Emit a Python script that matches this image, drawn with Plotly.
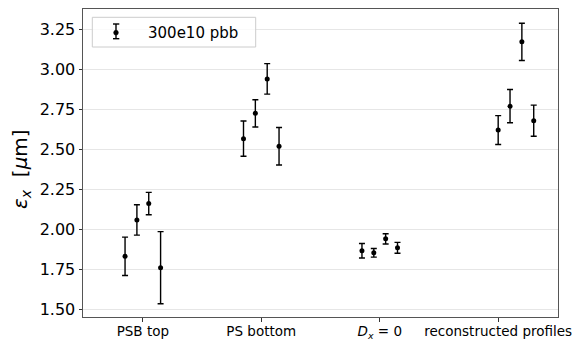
import plotly.graph_objects as go

categories = ["PSB top", "PS bottom", "<i>D</i><sub><i>x</i></sub> = 0", "reconstructed profiles"]
offsets = [
    [-0.15, -0.05, 0.05, 0.15],
    [-0.15, -0.05, 0.05, 0.15],
    [-0.15, -0.05, 0.05, 0.15],
    [0.0, 0.1, 0.2, 0.3],
]
eps_psb_top = [1.833, 2.06, 2.162, 1.762]
err_psb_top = [0.12, 0.095, 0.07, 0.225]
eps_ps_bottom = [2.567, 2.725, 2.94, 2.52]
err_ps_bottom = [0.11, 0.085, 0.095, 0.117]
eps_dx0 = [1.868, 1.855, 1.942, 1.886]
err_dx0 = [0.045, 0.027, 0.032, 0.034]
eps_recon = [2.621, 2.77, 3.171, 2.679]
err_recon = [0.09, 0.104, 0.116, 0.097]
y_ticks = [1.50, 1.75, 2.00, 2.25, 2.50, 2.75, 3.00, 3.25]
series_name = "300e10 pbb"

groups = [
    (eps_psb_top, err_psb_top),
    (eps_ps_bottom, err_ps_bottom),
    (eps_dx0, err_dx0),
    (eps_recon, err_recon),
]

xs, ys, es = [], [], []
for i, (vals, errs) in enumerate(groups):
    for off, v, e in zip(offsets[i], vals, errs):
        xs.append(i + off)
        ys.append(v)
        es.append(e)

font = "DejaVu Sans, Verdana, sans-serif"

W, H = 575, 340
ML, MR, MT, MB = 83, 17, 9, 23
PW, PH = W - ML - MR, H - MT - MB


def px(xpix):
    return (xpix - ML) / PW


def py(ypix):
    return 1 - (ypix - MT) / PH


fig = go.Figure()
fig.add_trace(go.Scatter(
    x=xs, y=ys, mode="markers", name=series_name, showlegend=False,
    marker=dict(color="black", size=5, symbol="circle"),
    error_y=dict(type="data", array=es, visible=True, color="black",
                 thickness=1.4, width=3),
))

fig.update_layout(
    width=W, height=H,
    margin=dict(l=ML, r=MR, t=MT, b=MB),
    plot_bgcolor="white", paper_bgcolor="white",
    font=dict(family=font, color="black"),
    showlegend=False,
    xaxis=dict(
        range=[-0.505, 3.505], tickmode="array",
        tickvals=list(range(len(categories))), ticktext=categories,
        showgrid=False, zeroline=False, automargin=False,
        ticks="outside", ticklen=3.5, tickwidth=1, tickcolor="#333",
        showline=True, linecolor="#555", linewidth=1, mirror=True,
        tickfont=dict(size=13.5, family=font), ticklabelstandoff=-2,
    ),
    yaxis=dict(
        range=[1.4545, 3.376], tickmode="array",
        tickvals=y_ticks, ticktext=[f"{v:.2f}" for v in y_ticks],
        showgrid=True, gridcolor="#e6e6e6", gridwidth=1, zeroline=False,
        automargin=False,
        ticks="outside", ticklen=3.5, tickwidth=1, tickcolor="#333",
        showline=True, linecolor="#555", linewidth=1, mirror=True,
        tickfont=dict(size=16, family=font),
    ),
)

# y-axis title
fig.add_annotation(
    xref="paper", yref="paper", x=px(21), y=py(169),
    text="<i>ε</i><sub><i>x</i></sub>\u00a0 [<i>μ</i>m]", textangle=-90,
    showarrow=False, xanchor="center", yanchor="middle",
    font=dict(size=20, family=font, color="black"),
)

# legend box (matplotlib style)
x0, x1, y0, y1 = px(92.3), px(255.7), py(17.3), py(47)
fig.add_shape(type="rect", xref="paper", yref="paper", x0=x0, x1=x1, y0=y1, y1=y0,
              line=dict(color="#cccccc", width=1), fillcolor="rgba(255,255,255,0.8)",
              layer="above")
# legend sample glyph (errorbar + marker)
gx = px(116)
fig.add_shape(type="line", xref="paper", yref="paper", x0=gx, x1=gx, y0=py(24), y1=py(38.7),
              line=dict(color="black", width=1.4), layer="above")
for cy in (24, 38.7):
    fig.add_shape(type="line", xref="paper", yref="paper", x0=px(113), x1=px(119.3),
                  y0=py(cy), y1=py(cy), line=dict(color="black", width=1.4), layer="above")
fig.add_shape(type="circle", xref="paper", yref="paper", x0=px(113.6), x1=px(118.4),
              y0=py(30.3), y1=py(35.1), line=dict(color="black", width=0.5),
              fillcolor="black", layer="above")
fig.add_annotation(
    xref="paper", yref="paper", x=px(146), y=py(32.5),
    text=series_name, showarrow=False, xanchor="left", yanchor="middle",
    font=dict(size=15, family=font, color="black"),
)

fig.write_html("out.html")
